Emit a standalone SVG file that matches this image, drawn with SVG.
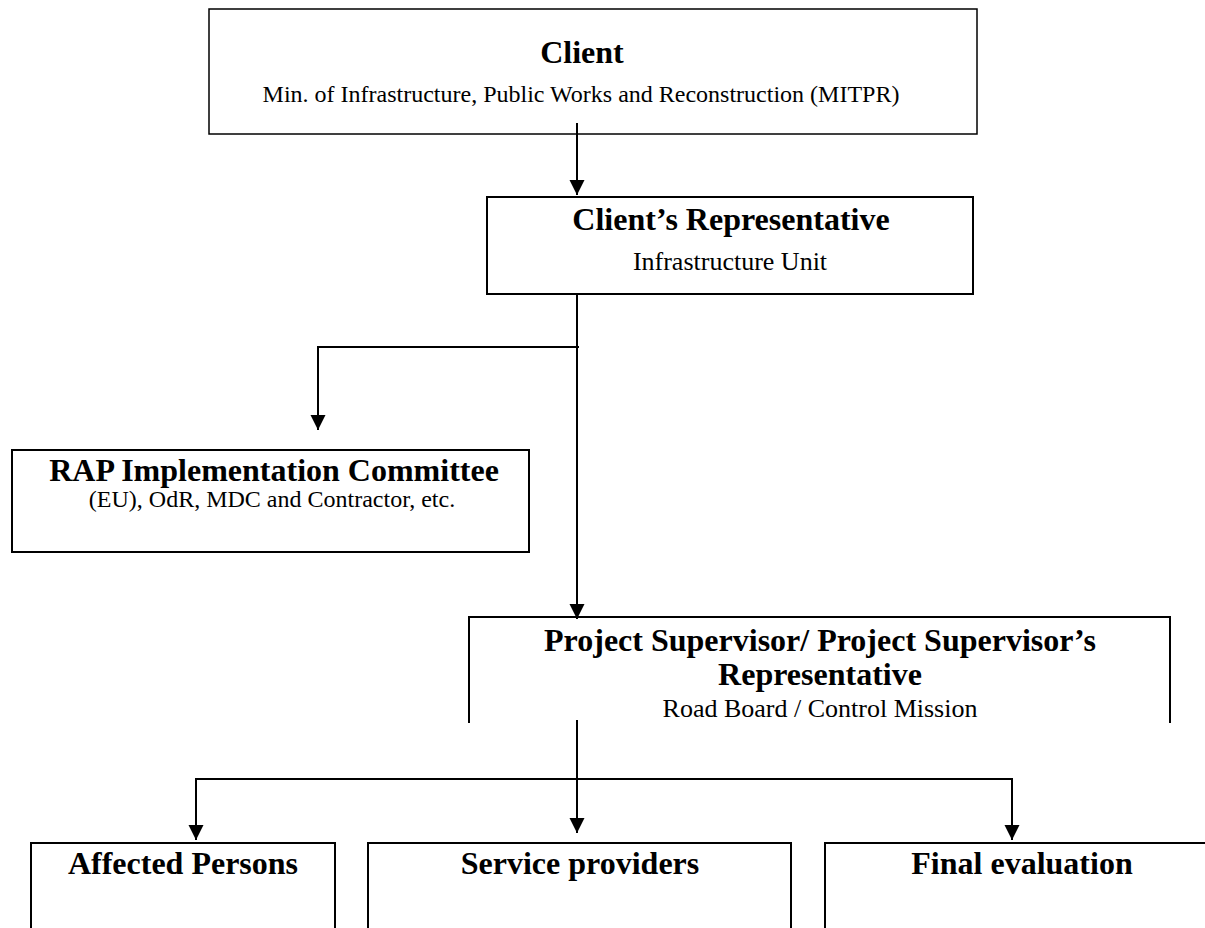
<svg xmlns="http://www.w3.org/2000/svg" width="1205" height="928" viewBox="0 0 1205 928">
<style>
.box{fill:none;stroke:#000;stroke-width:2}
.t{font-family:"Liberation Serif","Times New Roman",serif;font-weight:bold;font-size:32px;fill:#000;text-anchor:middle}
.s{font-family:"Liberation Serif","Times New Roman",serif;font-size:24px;fill:#000;text-anchor:middle}
.c{fill:none;stroke:#000;stroke-width:2}
</style>
<defs>
<marker id="ah" markerUnits="userSpaceOnUse" markerWidth="16" markerHeight="16" refX="15" refY="7.5" orient="auto">
<path d="M0,0 L15,7.5 L0,15 Z" fill="#000"/>
</marker>
</defs>
<rect width="1205" height="928" fill="#fff"/>
<g id="client">
<rect class="box" x="209" y="9" width="768" height="125" style="stroke-width:1.5"/>
<text class="t" x="582" y="63">Client</text>
<text class="s" x="581" y="102">Min. of Infrastructure, Public Works and Reconstruction (MITPR)</text>
</g>
<g id="clients-representative">
<rect class="box" x="487" y="197" width="486" height="97"/>
<text class="t" x="731" y="230">Client’s Representative</text>
<text class="s" x="730" y="270" style="font-size:26px">Infrastructure Unit</text>
</g>
<g id="rap-committee">
<rect class="box" x="12" y="450" width="517" height="102"/>
<text class="t" x="274" y="481">RAP Implementation Committee</text>
<text class="s" x="272" y="507">(EU), OdR, MDC and Contractor, etc.</text>
</g>
<g id="project-supervisor">
<path class="box" d="M469,723 V617 H1170 V723"/>
<text class="t" x="820" y="651">Project Supervisor/ Project Supervisor’s</text>
<text class="t" x="820" y="685">Representative</text>
<text class="s" x="820" y="717" style="font-size:26px">Road Board / Control Mission</text>
</g>
<g id="affected-persons">
<path class="box" d="M31,928 V843 H335 V928"/>
<text class="t" x="183" y="874">Affected Persons</text>
</g>
<g id="service-providers">
<path class="box" d="M368,928 V843 H791 V928"/>
<text class="t" x="580" y="874">Service providers</text>
</g>
<g id="final-evaluation">
<path class="box" d="M825,928 V843 H1207"/>
<text class="t" x="1022" y="874">Final evaluation</text>
</g>
<g id="connectors">
<line class="c" x1="577" y1="123" x2="577" y2="195" marker-end="url(#ah)"/>
<line class="c" x1="577" y1="294" x2="577" y2="619" marker-end="url(#ah)"/>
<path class="c" d="M579,347 H318 V430" marker-end="url(#ah)"/>
<line class="c" x1="577" y1="720" x2="577" y2="833" marker-end="url(#ah)"/>
<path class="c" d="M196,840 V779 H1012 V840"/>
<line class="c" x1="196" y1="800" x2="196" y2="840" marker-end="url(#ah)"/>
<line class="c" x1="1012" y1="800" x2="1012" y2="840" marker-end="url(#ah)"/>
</g>
</svg>
